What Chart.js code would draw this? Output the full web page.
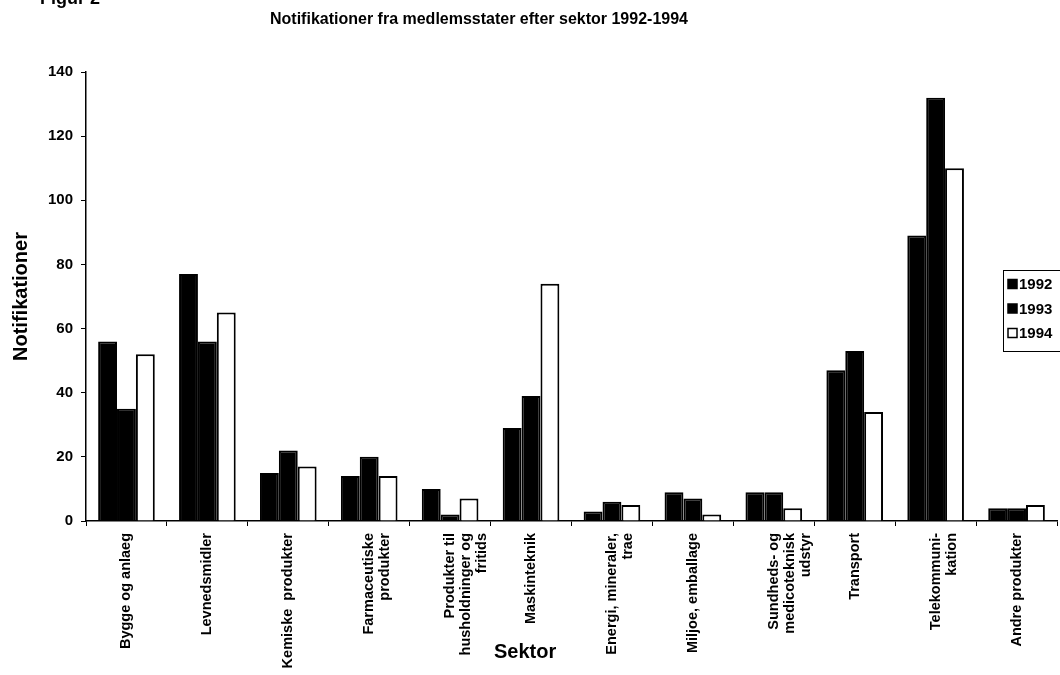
<!DOCTYPE html>
<html>
<head>
<meta charset="utf-8">
<script src="https://cdn.jsdelivr.net/npm/chart.js@4/dist/chart.umd.min.js"></script>
<style>
  body { margin: 0; background: #fff; font-family: "Liberation Sans", Arial, sans-serif; }
  #wrap { position: relative; width: 1060px; height: 675px; }
  .txt { position: absolute; font-weight: bold; color: #000; white-space: nowrap; }
</style>
</head>
<body>
<div id="wrap">
  <canvas id="chart" width="1060" height="675"></canvas>
  <div class="txt" style="left:40px; top:-12px; font-size:18px;">Figur 2</div>
  <div class="txt" style="left:100px; width:758px; top:10px; font-size:16px; text-align:center;">Notifikationer fra medlemsstater efter sektor 1992-1994</div>
  <div class="txt" style="left:494px; top:640px; font-size:20px;">Sektor</div>
</div>
<script>
const sectors = [
    "Bygge og anlaeg",
    "Levnedsmidler",
    "Kemiske  produkter",
    ["Farmaceutiske", "produkter"],
    ["Produkter til", "husholdninger og", "fritids"],
    "Maskinteknik",
    ["Energi, mineraler,", "trae"],
    "Miljoe, emballage",
    ["Sundheds- og", "medicoteknisk", "udstyr"],
    "Transport",
    ["Telekommuni-", "kation"],
    "Andre produkter"
];
const years = ["1992", "1993", "1994"];
const values1992 = [56, 77, 15, 14, 10, 29, 3, 9, 9, 47, 89, 4];
const values1993 = [35, 56, 22, 20, 2, 39, 6, 7, 9, 53, 132, 4];
const values1994 = [52, 65, 17, 14, 7, 74, 5, 2, 4, 34, 110, 5];
const yTicks = [0, 20, 40, 60, 80, 100, 120, 140];

const fills = ["#000000", "#000000", "#ffffff"];
const fontFamily = "'Liberation Sans', Arial, sans-serif";

// legend box drawn inside the plot, like the scanned figure
const boxLegend = {
    id: "boxLegend",
    afterDraw(chart) {
        const ctx = chart.ctx;
        const x = 1003, y = 270, w = 62, h = 81;
        ctx.save();
        ctx.fillStyle = "#fff";
        ctx.fillRect(x, y, w, h);
        ctx.strokeStyle = "#000";
        ctx.lineWidth = 1;
        ctx.strokeRect(x + 0.5, y + 0.5, w, h);
        ctx.font = "bold 15px " + fontFamily;
        ctx.textBaseline = "middle";
        chart.data.datasets.forEach((ds, i) => {
            const cy = y + 14 + i * 24.5;
            ctx.fillStyle = ds.backgroundColor;
            ctx.fillRect(x + 5, cy - 4.5, 9, 9);
            ctx.lineWidth = 1.5;
            ctx.strokeRect(x + 5, cy - 4.5, 9, 9);
            ctx.fillStyle = "#000";
            ctx.fillText(ds.label, x + 16, cy + 1);
        });
        ctx.restore();
    }
};

new Chart(document.getElementById("chart"), {
    type: "bar",
    data: {
        labels: sectors,
        datasets: [
            { label: years[0], data: values1992, backgroundColor: fills[0] },
            { label: years[1], data: values1993, backgroundColor: fills[1] },
            { label: years[2], data: values1994, backgroundColor: fills[2] }
        ]
    },
    options: {
        responsive: false,
        animation: false,
        layout: { padding: { top: 72, right: 3, left: 0, bottom: 0 } },
        datasets: {
            bar: {
                borderColor: "#000",
                borderWidth: 2,
                categoryPercentage: 0.7,
                barPercentage: 1.0
            }
        },
        plugins: {
            legend: { display: false },
            tooltip: { enabled: false }
        },
        scales: {
            x: {
                afterFit(scale) { scale.height = 154; },
                border: { color: "#000", width: 1.5 },
                grid: { drawOnChartArea: false, color: "#000", tickLength: 5, lineWidth: 1 },
                ticks: {
                    color: "#000",
                    font: { family: fontFamily, size: 14.5, weight: "bold", lineHeight: 1.1 },
                    minRotation: 90,
                    maxRotation: 90,
                    autoSkip: false,
                    padding: 7
                }
            },
            y: {
                min: 0,
                max: 140,
                afterFit(scale) { scale.width = 86; },
                afterBuildTicks(scale) { scale.ticks = yTicks.map(v => ({ value: v })); },
                border: { color: "#000", width: 1.5 },
                grid: { drawOnChartArea: false, color: "#000", tickLength: 5, lineWidth: 1 },
                title: {
                    display: true,
                    text: "Notifikationer",
                    color: "#000",
                    font: { family: fontFamily, size: 20, weight: "bold" },
                    padding: { top: 9, bottom: 0 }
                },
                ticks: {
                    color: "#000",
                    font: { family: fontFamily, size: 15, weight: "bold" },
                    padding: 8
                }
            }
        }
    },
    plugins: [boxLegend]
});
</script>
</body>
</html>
